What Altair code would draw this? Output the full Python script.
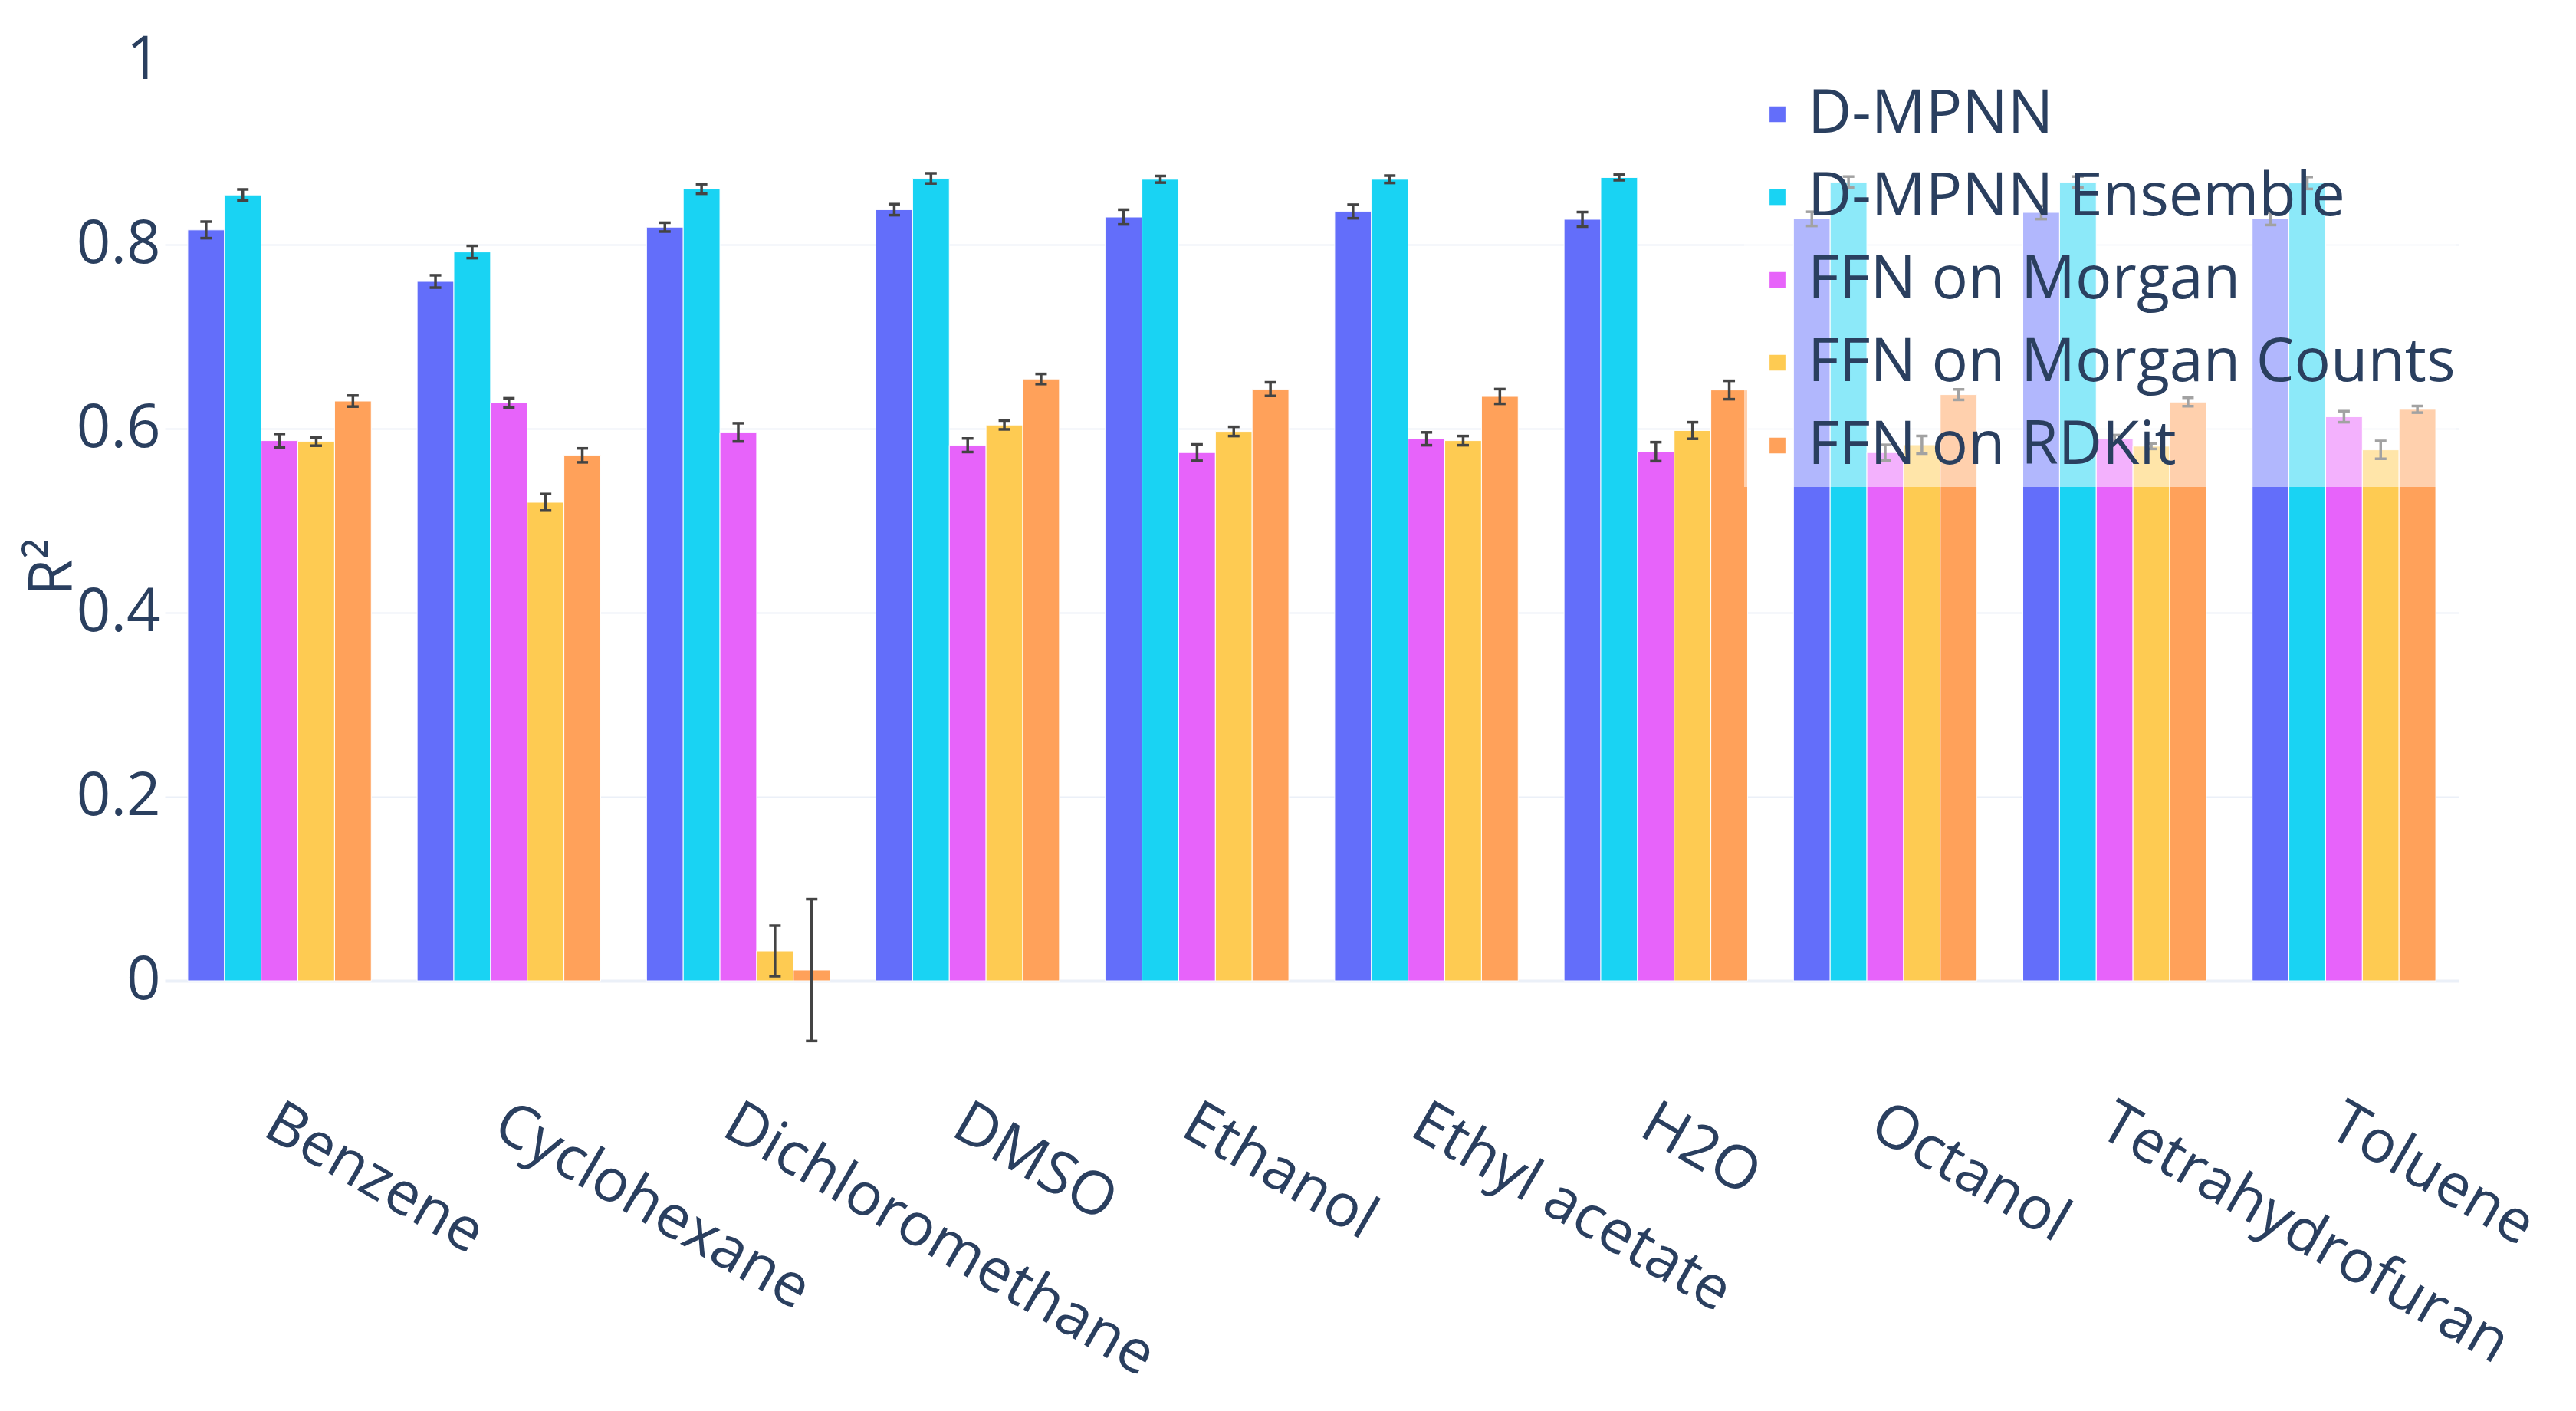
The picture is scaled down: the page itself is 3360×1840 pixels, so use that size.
import altair as alt
import pandas as pd

solvents = ["Benzene", "Cyclohexane", "Dichloromethane", "DMSO", "Ethanol",
            "Ethyl acetate", "H2O", "Octanol", "Tetrahydrofuran", "Toluene"]
models = ["D-MPNN", "D-MPNN Ensemble", "FFN on Morgan",
          "FFN on Morgan Counts", "FFN on RDKit"]
colors = ["#636EFA", "#19D3F3", "#E763FA", "#FECB52", "#FFA15A"]

# mean R^2 per model, one entry per solvent
dmpnn = [0.816, 0.760, 0.819, 0.838, 0.830, 0.836, 0.8275, 0.828, 0.835, 0.828]
dmpnn_ens = [0.854, 0.792, 0.8605, 0.872, 0.871, 0.871, 0.873, 0.868, 0.868, 0.867]
ffn_morgan = [0.587, 0.628, 0.596, 0.582, 0.574, 0.589, 0.575, 0.574, 0.589, 0.613]
ffn_counts = [0.586, 0.520, 0.0325, 0.604, 0.597, 0.587, 0.598, 0.5825, 0.581, 0.577]
ffn_rdkit = [0.630, 0.571, 0.0117, 0.654, 0.643, 0.635, 0.642, 0.637, 0.629, 0.621]

# error bar half-widths
dmpnn_err = [0.009, 0.0067, 0.0048, 0.006, 0.008, 0.0074, 0.0079, 0.0077, 0.0072, 0.0067]
dmpnn_ens_err = [0.006, 0.0067, 0.0052, 0.0055, 0.0036, 0.004, 0.003, 0.006, 0.006, 0.0065]
ffn_morgan_err = [0.0073, 0.005, 0.0099, 0.0074, 0.0089, 0.007, 0.0103, 0.0084, 0.004, 0.006]
ffn_counts_err = [0.0045, 0.009, 0.0275, 0.0048, 0.005, 0.005, 0.009, 0.0096, 0.003, 0.0097]
ffn_rdkit_err = [0.006, 0.0076, 0.077, 0.0055, 0.0074, 0.008, 0.010, 0.0057, 0.0046, 0.0036]

means = [dmpnn, dmpnn_ens, ffn_morgan, ffn_counts, ffn_rdkit]
errs = [dmpnn_err, dmpnn_ens_err, ffn_morgan_err, ffn_counts_err, ffn_rdkit_err]

rows = []
for m, vals, es in zip(models, means, errs):
    for s, v, e in zip(solvents, vals, es):
        rows.append({"solvent": s, "model": m, "r2": v, "lo": v - e, "hi": v + e})
df = pd.DataFrame(rows)

FONT = "Open Sans"
TXT = "#2a3f5f"
FS = 78

x_enc = alt.X("solvent:N", sort=solvents,
              scale=alt.Scale(paddingInner=0.2, paddingOuter=0.1),
              axis=alt.Axis(title=None, labelAngle=30, labelAlign="left",
                            labelBaseline="top", labelFontSize=FS,
                            labelColor=TXT, labelFont=FONT, labelPadding=26,
                            labelOffset=7, labelLimit=2000, ticks=False,
                            tickSize=0, domain=False, grid=False))
xo = alt.XOffset("model:N", sort=models)
yscale = alt.Scale(domain=[-0.1, 1], nice=False, zero=False)

base = alt.Chart(df)

bars = base.mark_bar(stroke="white", strokeWidth=1).encode(
    x=x_enc,
    xOffset=xo,
    y=alt.Y("r2:Q", scale=yscale,
            axis=alt.Axis(title="R²", values=[0, 0.2, 0.4, 0.6, 0.8, 1],
                          format="~g", labelFontSize=FS, labelColor=TXT,
                          labelFont=FONT, labelPadding=6, ticks=False,
                          domain=False,
                          gridColor={"condition": {"test": "datum.value === 1",
                                                   "value": "rgba(0,0,0,0)"},
                                     "value": "#EBF0F8"},
                          gridWidth={"condition": {"test": "datum.value === 0",
                                                   "value": 4},
                                     "value": 2},
                          titleFontSize=FS, titleFont=FONT, titleColor=TXT,
                          titleFontWeight="normal", titleAngle=270,
                          titleBaseline="alphabetic", titleAlign="center",
                          titleX=-122, titleY=660)),
    color=alt.Color("model:N", sort=models,
                    scale=alt.Scale(domain=models, range=colors),
                    legend=alt.Legend(title=None, orient="none", legendX=2060,
                                      legendY=16, padding=0,
                                      fillColor="rgba(255,255,255,0.5)",
                                      symbolType="square", symbolSize=430,
                                      symbolStrokeWidth=0, symbolOpacity=1,
                                      symbolOffset=4, clipHeight=108,
                                      labelFontSize=79, labelFont=FONT,
                                      labelColor=TXT, labelOffset=0,
                                      rowPadding=0, labelLimit=2000)),
)

rules = base.mark_rule(color="#444444", strokeWidth=3.5).encode(
    x=alt.X("solvent:N", sort=solvents), xOffset=xo,
    y=alt.Y("lo:Q", scale=yscale), y2="hi:Q")

caps_lo = base.mark_tick(color="#444444", size=15, thickness=3.5, opacity=1).encode(
    x=alt.X("solvent:N", sort=solvents), xOffset=xo,
    y=alt.Y("lo:Q", scale=yscale))
caps_hi = base.mark_tick(color="#444444", size=15, thickness=3.5, opacity=1).encode(
    x=alt.X("solvent:N", sort=solvents), xOffset=xo,
    y=alt.Y("hi:Q", scale=yscale))

chart = alt.layer(bars, rules, caps_lo, caps_hi).properties(
    width=2992, height=1320,
    autosize=alt.AutoSizeParams(type="none"),
    padding={"left": 207, "top": 71, "right": 130, "bottom": 420},
    background="white",
).configure(font=FONT).configure_view(stroke="transparent", strokeWidth=0)

chart.save("out.html", embed_options={"renderer": "svg", "actions": False})
